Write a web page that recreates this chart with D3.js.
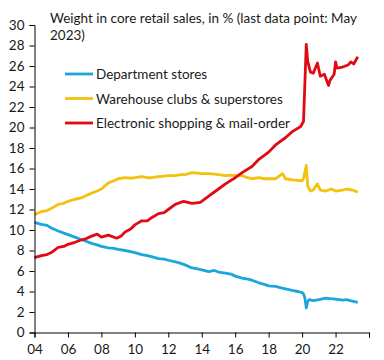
<!DOCTYPE html>
<html>
<head>
<meta charset="utf-8">
<script src="https://cdn.jsdelivr.net/npm/d3@7"></script>
<style>
  html, body { margin: 0; padding: 0; background: #fff; }
  svg { display: block; }
  text { font-family: Lato, "Open Sans", sans-serif; fill: #1a1a1a; }
</style>
</head>
<body>
<svg id="chart" width="384" height="360"></svg>
<script>
const titleLines = ["Weight in core retail sales, in % (last data point: May", "2023)"];
const seriesNames = ["Department stores", "Warehouse clubs & superstores", "Electronic shopping & mail-order"];
const seriesColors = ["#1ba6dc", "#f4c20d", "#e10a14"];
const yTicks = [0, 2, 4, 6, 8, 10, 12, 14, 16, 18, 20, 22, 24, 26, 28, 30];
const xTickYears = [2004, 2006, 2008, 2010, 2012, 2014, 2016, 2018, 2020, 2022, 2024];
const xTickLabels = ["04", "06", "08", "10", "12", "14", "16", "18", "20", "22", ""];

const department = [
  ["2004-01",10.75],["2004-06",10.55],["2004-10",10.45],["2005-01",10.2],["2005-06",9.9],["2005-10",9.7],
  ["2006-01",9.55],["2006-06",9.3],["2006-10",9.1],["2007-01",8.95],["2007-06",8.7],["2007-10",8.55],
  ["2008-01",8.4],["2008-06",8.25],["2008-10",8.2],["2009-01",8.1],["2009-06",8.0],["2009-10",7.9],
  ["2010-01",7.8],["2010-06",7.6],["2010-10",7.5],["2011-01",7.4],["2011-06",7.2],["2011-10",7.15],
  ["2012-01",7.05],["2012-06",6.9],["2012-10",6.75],["2013-01",6.6],["2013-06",6.3],["2013-10",6.2],
  ["2014-01",6.1],["2014-06",5.95],["2014-10",6.05],["2015-01",5.9],["2015-06",5.8],["2015-10",5.7],
  ["2016-01",5.5],["2016-06",5.3],["2016-10",5.2],["2017-01",5.1],["2017-06",4.85],["2017-10",4.7],
  ["2018-01",4.55],["2018-06",4.5],["2018-10",4.35],["2019-01",4.25],["2019-06",4.1],["2019-10",4.0],
  ["2020-01",3.9],["2020-02",3.75],["2020-03",3.4],["2020-04",2.4],["2020-05",3.0],["2020-06",3.2],
  ["2020-09",3.1],["2021-01",3.2],["2021-06",3.35],["2021-09",3.3],["2022-01",3.25],["2022-06",3.15],
  ["2022-09",3.2],["2023-01",3.05],["2023-05",2.95]
];
const warehouse = [
  ["2004-01",11.5],["2004-06",11.8],["2004-10",11.9],["2005-01",12.1],["2005-06",12.5],["2005-10",12.6],
  ["2006-01",12.8],["2006-06",13.0],["2006-10",13.1],["2007-01",13.3],["2007-06",13.6],["2007-10",13.8],
  ["2008-01",14.0],["2008-06",14.6],["2008-10",14.8],["2009-01",15.0],["2009-06",15.1],["2009-10",15.05],
  ["2010-01",15.1],["2010-06",15.2],["2010-10",15.1],["2011-01",15.1],["2011-06",15.2],["2011-10",15.25],
  ["2012-01",15.3],["2012-06",15.3],["2012-10",15.4],["2013-01",15.4],["2013-06",15.6],["2013-10",15.55],
  ["2014-01",15.5],["2014-06",15.5],["2014-10",15.45],["2015-01",15.4],["2015-06",15.3],["2015-10",15.35],
  ["2016-01",15.3],["2016-06",15.3],["2016-10",15.1],["2017-01",15.0],["2017-06",15.1],["2017-10",15.0],
  ["2018-01",15.0],["2018-06",15.0],["2018-11",15.5],["2019-01",15.0],["2019-06",14.9],["2019-10",14.85],
  ["2020-01",14.8],["2020-02",15.0],["2020-03",15.6],["2020-04",16.3],["2020-05",14.3],["2020-07",13.8],
  ["2020-09",13.9],["2020-12",14.5],["2021-02",13.9],["2021-06",13.8],["2021-10",14.0],["2022-01",13.8],
  ["2022-06",13.9],["2022-09",14.0],["2023-01",13.9],["2023-05",13.7]
];
const electronic = [
  ["2004-01",7.3],["2004-06",7.5],["2004-10",7.6],["2005-01",7.8],["2005-06",8.3],["2005-10",8.4],
  ["2006-01",8.6],["2006-06",8.8],["2006-10",9.0],["2007-01",9.1],["2007-06",9.4],["2007-10",9.6],
  ["2008-01",9.3],["2008-06",9.5],["2008-12",9.2],["2009-03",9.4],["2009-06",9.8],["2009-10",10.1],
  ["2010-01",10.5],["2010-06",10.9],["2010-10",10.9],["2011-01",11.2],["2011-06",11.6],["2011-10",11.7],
  ["2012-01",12.0],["2012-06",12.5],["2012-12",12.8],["2013-06",12.6],["2013-12",12.7],["2014-06",13.3],
  ["2015-01",14.0],["2015-06",14.5],["2016-01",15.1],["2016-06",15.6],["2017-01",16.2],["2017-06",16.9],
  ["2018-01",17.6],["2018-06",18.3],["2019-01",19.0],["2019-06",19.6],["2019-12",20.1],["2020-02",20.6],
  ["2020-04",28.1],["2020-05",26.5],["2020-07",25.4],["2020-09",25.3],["2020-12",26.3],["2021-02",25.0],
  ["2021-05",25.2],["2021-08",24.1],["2021-09",24.6],["2021-12",25.2],["2022-01",26.4],["2022-02",25.8],
  ["2022-06",25.9],["2022-10",26.1],["2022-12",26.4],["2023-02",26.2],["2023-05",26.9]
];

const parse = d3.timeParse("%Y-%m");
const allSeries = [department, warehouse, electronic].map(s => s.map(([d, v]) => ({ date: parse(d), value: v })));

const svg = d3.select("#chart");
const margin = { left: 34.5, right: 15, top: 25, bottom: 27.5 };
const W = 384, H = 360;

const x = d3.scaleTime()
  .domain([new Date(2004, 0, 1), new Date(2024, 0, 1)])
  .range([margin.left, W - margin.right]);
const y = d3.scaleLinear()
  .domain([0, 30])
  .range([H - margin.bottom, margin.top]);

// lines
const line = d3.line().x(d => x(d.date)).y(d => y(d.value));
svg.append("g").selectAll("path")
  .data(allSeries)
  .join("path")
  .attr("d", line)
  .attr("fill", "none")
  .attr("stroke", (d, i) => seriesColors[i])
  .attr("stroke-width", 2.8)
  .attr("stroke-linejoin", "round");

// y axis
const yAxis = d3.axisLeft(y).tickValues(yTicks).tickSize(5).tickPadding(5).tickFormat(d3.format("d"));
const gy = svg.append("g").attr("transform", `translate(${margin.left},0)`).call(yAxis);
gy.select(".domain").attr("stroke", "#000");
gy.selectAll(".tick line").attr("stroke", "#000");
gy.selectAll("text").attr("font-size", 13.5).attr("fill", "#1a1a1a").attr("font-family", "Lato, sans-serif");

// x axis
const xAxis = d3.axisBottom(x)
  .tickValues(xTickYears.map(yr => new Date(yr, 0, 1)))
  .tickSize(5).tickPadding(7)
  .tickFormat((d, i) => xTickLabels[i]);
const gx = svg.append("g").attr("transform", `translate(0,${H - margin.bottom})`).call(xAxis);
gx.select(".domain").attr("stroke", "#000");
gx.selectAll(".tick line").attr("stroke", "#000");
gx.selectAll("text").attr("font-size", 13.5).attr("fill", "#1a1a1a").attr("font-family", "Lato, sans-serif");

// title
svg.append("text")
  .attr("x", 50).attr("y", 23)
  .attr("font-size", 13.5)
  .selectAll("tspan")
  .data(titleLines)
  .join("tspan")
  .attr("x", 50)
  .attr("dy", (d, i) => i === 0 ? 0 : 17)
  .text(d => d);

// legend
const legend = svg.append("g");
const legendY = [74, 98.5, 123];
seriesNames.forEach((name, i) => {
  legend.append("line")
    .attr("x1", 65).attr("x2", 93)
    .attr("y1", legendY[i]).attr("y2", legendY[i])
    .attr("stroke", seriesColors[i]).attr("stroke-width", 2.8);
  legend.append("text")
    .attr("x", 96).attr("y", legendY[i] + 5)
    .attr("font-size", 13.5)
    .text(name);
});
</script>
</body>
</html>
